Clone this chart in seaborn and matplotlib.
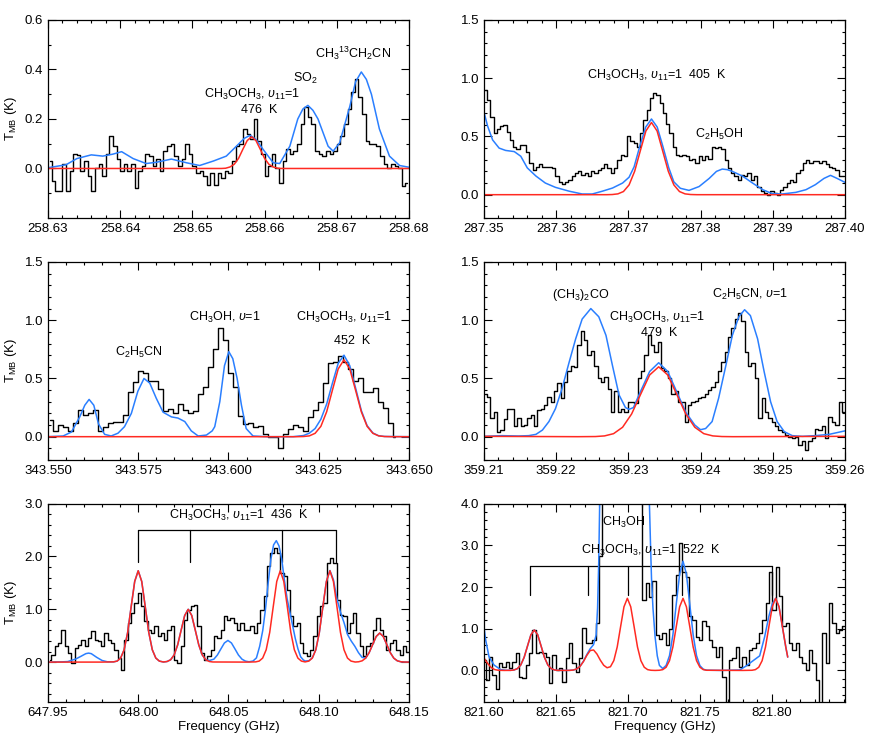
import numpy as np
import matplotlib
matplotlib.use('Agg')
import matplotlib.pyplot as plt
from matplotlib.ticker import FixedLocator, MultipleLocator, FormatStrFormatter
import seaborn as sns

# ---------------- panel 1 : 258.63 - 258.68 GHz ----------------
p1_obs = [0.03, -0.05, -0.09, -0.09, 0.02, -0.09, -0.01, 0.06, 0.055, -0.01,
          0.03, -0.03, -0.09, 0.0, 0.02, -0.03, 0.06, 0.13, 0.09, 0.04,
          -0.01, 0.02, -0.01, 0.02, -0.08, -0.01, 0.01, 0.06, 0.05, 0.01,
          0.04, -0.01, 0.07, 0.09, 0.10, 0.05, 0.01, 0.04, 0.10, 0.06,
          0.01, -0.02, -0.01, -0.03, -0.065, -0.02, -0.065, -0.02, -0.04, -0.01,
          -0.02, 0.03, 0.09, 0.10, 0.16, 0.14, 0.12, 0.20, 0.11, 0.06,
          -0.03, 0.01, 0.06, 0.0, -0.06, 0.03, 0.08, 0.06, 0.07, 0.10,
          0.18, 0.25, 0.21, 0.18, 0.07, 0.06, 0.05, 0.07, 0.06, 0.07,
          0.10, 0.13, 0.18, 0.24, 0.31, 0.36, 0.29, 0.22, 0.11, 0.10,
          0.10, 0.09, 0.05, 0.02, 0.0, 0.02, 0.01, 0.0, -0.07, -0.06]
p1_freq = np.linspace(258.63025, 258.67975, len(p1_obs))
p1_blue_x = [258.6300, 258.6325, 258.6340, 258.6360, 258.6376, 258.6390, 258.6402, 258.6418, 258.6436, 258.6450,
             258.6471, 258.6492, 258.6510, 258.6529, 258.6547, 258.6561, 258.6572, 258.6580, 258.6588, 258.6598,
             258.6612, 258.6621, 258.6635, 258.6646, 258.6653, 258.6660, 258.6667, 258.6674, 258.6688, 258.6695,
             258.6704, 258.6718, 258.6726, 258.6734, 258.6741, 258.6748, 258.6759, 258.6773, 258.6787, 258.6800]
p1_blue_y = [0.003, 0.015, 0.040, 0.055, 0.050, 0.058, 0.068, 0.040, 0.020, 0.025,
             0.038, 0.023, 0.012, 0.030, 0.050, 0.090, 0.122, 0.134, 0.118, 0.077,
             0.023, 0.020, 0.090, 0.200, 0.240, 0.255, 0.235, 0.200, 0.090, 0.070,
             0.104, 0.250, 0.350, 0.390, 0.360, 0.300, 0.160, 0.050, 0.012, 0.005]
p1_red_x = [258.63, 258.6540, 258.6546, 258.6552, 258.6558, 258.6564, 258.6570, 258.6576, 258.6582,
            258.6588, 258.6594, 258.6600, 258.6606, 258.6612, 258.6618, 258.6624, 258.68]
p1_red_y = [0, 0, 0.001, 0.006, 0.017, 0.041, 0.078, 0.113, 0.128, 0.113, 0.078, 0.041, 0.017, 0.006,
            0.001, 0, 0]

# ---------------- panel 2 : 287.35 - 287.40 GHz ----------------
p2_obs = [0.90, 0.81, 0.67, 0.53, 0.56, 0.59, 0.60, 0.54, 0.47, 0.41,
          0.39, 0.43, 0.43, 0.37, 0.27, 0.21, 0.24, 0.26, 0.24, 0.24,
          0.24, 0.23, 0.16, 0.11, 0.09, 0.11, 0.13, 0.16, 0.19, 0.20,
          0.17, 0.19, 0.16, 0.20, 0.19, 0.21, 0.23, 0.26, 0.23, 0.19,
          0.23, 0.30, 0.34, 0.33, 0.50, 0.46, 0.44, 0.41, 0.53, 0.64,
          0.73, 0.83, 0.87, 0.86, 0.79, 0.70, 0.61, 0.53, 0.41, 0.34,
          0.33, 0.34, 0.33, 0.30, 0.31, 0.27, 0.33, 0.30, 0.33, 0.31,
          0.41, 0.40, 0.41, 0.39, 0.30, 0.23, 0.19, 0.16, 0.13, 0.17,
          0.16, 0.19, 0.13, 0.16, 0.07, 0.03, 0.015, 0.0, 0.03, 0.015,
          0.0, 0.04, 0.07, 0.10, 0.13, 0.11, 0.19, 0.21, 0.27, 0.30,
          0.27, 0.29, 0.29, 0.27, 0.29, 0.26, 0.24, 0.23, 0.21, 0.16, 0.16]
p2_freq = np.linspace(287.3502, 287.3998, len(p2_obs))
p2_blue_x = [287.3500, 287.3505, 287.3512, 287.3521, 287.3530, 287.3542, 287.3551, 287.3560, 287.3572, 287.3585,
             287.3599, 287.3618, 287.3636, 287.3650, 287.3664, 287.3678, 287.3692, 287.3701, 287.3708, 287.3716,
             287.3724, 287.3732, 287.3740, 287.3748, 287.3756, 287.3763, 287.3772, 287.3784, 287.3798, 287.3812,
             287.3822, 287.3830, 287.3837, 287.3844, 287.3858, 287.3872, 287.3886, 287.3899, 287.3913, 287.3932,
             287.3946, 287.3959, 287.3971, 287.3980, 287.3989, 287.4000]
p2_blue_y = [0.71, 0.59, 0.47, 0.40, 0.38, 0.37, 0.33, 0.23, 0.16, 0.10,
             0.063, 0.03, 0.006, 0.006, 0.03, 0.057, 0.10, 0.15, 0.24, 0.42,
             0.58, 0.65, 0.58, 0.41, 0.23, 0.11, 0.055, 0.037, 0.07, 0.14,
             0.20, 0.22, 0.215, 0.20, 0.16, 0.10, 0.043, 0.01, 0.006, 0.02,
             0.043, 0.086, 0.14, 0.166, 0.14, 0.106]
p2_red_x = [287.35, 287.3670, 287.36777, 287.36855, 287.36932, 287.3701, 287.37087, 287.37165, 287.37243,
            287.3732, 287.37398, 287.37475, 287.37553, 287.3763, 287.37708, 287.37785, 287.37863, 287.3795, 287.40]
p2_red_y = [0, 0, 0.0014, 0.007, 0.027, 0.084, 0.201, 0.376, 0.547, 0.62, 0.547, 0.376, 0.201, 0.084,
            0.027, 0.007, 0.0014, 0, 0]

# ---------------- panel 3 : 343.55 - 343.65 GHz ----------------
p3_obs = [0.14, 0.05, 0.10, 0.08, 0.05, 0.12, 0.23, 0.19, 0.20, 0.23,
          0.05, 0.08, 0.12, 0.13, 0.13, 0.19, 0.38, 0.47, 0.56, 0.55,
          0.48, 0.48, 0.41, 0.22, 0.24, 0.20, 0.28, 0.23, 0.20, 0.22,
          0.37, 0.43, 0.60, 0.75, 0.93, 0.83, 0.55, 0.43, 0.18, 0.11,
          0.12, 0.08, 0.09, 0.02, 0.0, 0.0, -0.10, 0.02, 0.07, 0.10,
          0.08, 0.05, 0.17, 0.23, 0.30, 0.46, 0.63, 0.64, 0.69, 0.64,
          0.58, 0.48, 0.50, 0.38, 0.38, 0.42, 0.30, 0.25, 0.12, 0.0]
p3_freq = np.linspace(343.5507, 343.6462, len(p3_obs))
p3_blue_x = [343.5500, 343.5542, 343.5565, 343.5588, 343.5602, 343.5614, 343.5627, 343.5640, 343.5657, 343.5675,
             343.5694, 343.5712, 343.5731, 343.5749, 343.5766, 343.5782, 343.5800, 343.5819, 343.5842, 343.5860,
             343.5879, 343.5897, 343.5916, 343.5939, 343.5955, 343.5962, 343.5976, 343.5989, 343.6001, 343.6012,
             343.6024, 343.6036, 343.6049, 343.6068, 343.6105, 343.6179, 343.6208, 343.6224, 343.6240, 343.6256,
             343.6272, 343.6288, 343.6304, 343.6320, 343.6336, 343.6352, 343.6368, 343.6384, 343.6400, 343.6416,
             343.6432, 343.6500]
p3_blue_y = [0.0, 0.006, 0.04, 0.17, 0.27, 0.32, 0.27, 0.11, 0.02, 0.006,
             0.03, 0.086, 0.20, 0.39, 0.50, 0.46, 0.33, 0.21, 0.17, 0.16,
             0.13, 0.05, 0.006, 0.014, 0.05, 0.086, 0.30, 0.61, 0.73, 0.67,
             0.50, 0.27, 0.07, 0.006, 0.0, 0.0, 0.01, 0.03, 0.07, 0.15,
             0.28, 0.46, 0.63, 0.70, 0.61, 0.42, 0.225, 0.095, 0.032, 0.008,
             0.002, 0.0]
p3_red_x = [343.55, 343.619, 343.6208, 343.6224, 343.6240, 343.6256, 343.6272, 343.6288, 343.6304, 343.6320,
            343.6336, 343.6352, 343.6368, 343.6384, 343.6400, 343.6416, 343.6432, 343.645, 343.65]
p3_red_y = [0, 0, 0.0015, 0.007, 0.029, 0.089, 0.214, 0.40, 0.582, 0.66, 0.582, 0.40, 0.214, 0.089,
            0.029, 0.007, 0.0015, 0, 0]

# ---------------- panel 4 : 359.21 - 359.26 GHz ----------------
p4_obs = [0.37, 0.34, 0.16, 0.21, 0.04, 0.06, 0.15, 0.24, 0.24, 0.09,
          0.16, 0.09, 0.10, 0.16, 0.19, 0.09, 0.23, 0.24, 0.27, 0.34,
          0.30, 0.39, 0.46, 0.33, 0.47, 0.56, 0.61, 0.60, 0.79, 0.91,
          0.83, 0.70, 0.74, 0.61, 0.50, 0.47, 0.51, 0.41, 0.21, 0.39,
          0.21, 0.24, 0.21, 0.30, 0.30, 0.29, 0.50, 0.56, 0.70, 0.87,
          0.79, 0.73, 0.81, 0.59, 0.56, 0.50, 0.37, 0.39, 0.30, 0.30,
          0.13, 0.27, 0.30, 0.31, 0.33, 0.34, 0.37, 0.40, 0.43, 0.47,
          0.56, 0.64, 0.73, 0.86, 0.93, 1.01, 1.06, 0.99, 0.73, 0.61,
          0.63, 0.50, 0.16, 0.33, 0.21, 0.16, 0.13, 0.09, 0.06, 0.04,
          0.014, 0.0, -0.014, 0.0, -0.07, -0.04, -0.11, -0.04, -0.014, 0.07,
          0.06, 0.09, -0.014, 0.17, 0.13, 0.10, 0.30, 0.21]
p4_freq = np.linspace(359.2102, 359.2598, len(p4_obs))
p4_blue_x = [359.2100, 359.2125, 359.2148, 359.2162, 359.2172, 359.2181, 359.2190, 359.2199, 359.2208, 359.2218,
             359.2227, 359.2236, 359.2248, 359.2259, 359.2269, 359.2278, 359.2287, 359.2296, 359.2301, 359.2307,
             359.2317, 359.23295, 359.2342, 359.23545, 359.2367, 359.23795, 359.2392, 359.2400, 359.2407, 359.2416,
             359.2425, 359.2435, 359.2444, 359.2453, 359.2461, 359.2469, 359.2479, 359.2488, 359.2497, 359.2506,
             359.2516, 359.2527, 359.2541, 359.2559, 359.2578, 359.2600]
p4_blue_y = [0.003, 0.009, 0.006, 0.009, 0.02, 0.057, 0.13, 0.24, 0.41, 0.64,
             0.84, 1.01, 1.10, 1.03, 0.87, 0.61, 0.36, 0.25, 0.235, 0.25,
             0.39, 0.56, 0.635, 0.56, 0.385, 0.21, 0.10, 0.06, 0.07, 0.13,
             0.33, 0.61, 0.87, 1.03, 1.09, 1.04, 0.84, 0.56, 0.30, 0.13,
             0.043, 0.009, 0.003, 0.009, 0.02, 0.05]
p4_red_x = [359.21, 359.2230, 359.22545, 359.2267, 359.22795, 359.2292, 359.23045, 359.2317, 359.23295,
            359.2342, 359.23545, 359.2367, 359.23795, 359.2392, 359.24045, 359.2417, 359.24295, 359.2445, 359.26]
p4_red_y = [0.003, 0.0, 0.0013, 0.0067, 0.026, 0.081, 0.195, 0.364, 0.53, 0.60, 0.53, 0.364, 0.195, 0.081,
            0.026, 0.0067, 0.0013, 0.0, 0.003]

# ---------------- panel 5 : 647.95 - 648.15 GHz ----------------
p5_obs = [0.04, 0.14, 0.30, 0.36, 0.61, 0.30, 0.17, -0.02, 0.27, 0.33,
          0.42, 0.30, 0.46, 0.58, 0.42, 0.39, 0.30, 0.55, 0.42, 0.36,
          0.23, 0.08, -0.15, 0.42, 0.74, 0.93, 1.12, 1.31, 1.06, 0.77,
          0.61, 0.55, 0.68, 0.49, 0.55, 0.42, 0.61, 0.68, 0.04, -0.02,
          0.30, 0.80, 0.99, 1.06, 1.09, 0.68, 0.17, 0.04, 0.11, 0.23,
          0.49, 0.46, 0.61, 0.87, 0.80, 0.84, 0.74, 0.61, 0.74, 0.61,
          0.61, 0.68, 0.55, 0.74, 0.99, 1.25, 1.82, 2.07, 2.16, 2.07,
          1.69, 1.63, 1.37, 0.87, 0.68, 0.74, 0.36, 0.17, 0.11, 0.23,
          0.49, 0.87, 1.06, 1.12, 1.88, 1.97, 1.88, 1.18, 0.90, 0.87,
          0.55, 0.74, 0.93, 0.55, 0.30, 0.11, 0.30, 0.36, 0.61, 0.84,
          0.61, 0.49, 0.23, 0.36, 0.42, 0.23, 0.14, 0.30, 0.20]
p5_freq = np.linspace(647.951, 648.1494, len(p5_obs))
p5_red_x = [647.95, 647.98,
            647.98635, 647.9883, 647.99025, 647.9922, 647.99415, 647.9961, 647.99805, 648.0,
            648.00195, 648.0039, 648.00585, 648.0078, 648.00975, 648.0117, 648.01365,
            648.01405, 648.0160, 648.01795, 648.0199, 648.02185, 648.0238, 648.02575, 648.0277,
            648.02965, 648.0316, 648.03355, 648.0355, 648.03745, 648.0394, 648.04135,
            648.06,
            648.06505, 648.0670, 648.06895, 648.0709, 648.07285, 648.0748, 648.07675, 648.0787,
            648.08065, 648.0826, 648.08455, 648.0865, 648.08845, 648.0904, 648.09235,
            648.09255, 648.0945, 648.09645, 648.0984, 648.10035, 648.1023, 648.10425, 648.1062,
            648.10815, 648.1101, 648.11205, 648.1140, 648.11595, 648.1179, 648.11985,
            648.12015, 648.1221, 648.12405, 648.1260, 648.12795, 648.1299, 648.13185, 648.1338,
            648.13575, 648.1377, 648.13965, 648.1416, 648.14355, 648.1455, 648.14745,
            648.15]
p5_red_y = [0.0, 0.0,
            0.004, 0.019, 0.076, 0.234, 0.562, 1.049, 1.527, 1.73,
            1.527, 1.049, 0.562, 0.234, 0.076, 0.019, 0.004,
            0.002, 0.011, 0.044, 0.135, 0.325, 0.607, 0.883, 1.0,
            0.883, 0.607, 0.325, 0.135, 0.044, 0.011, 0.002,
            0.0,
            0.004, 0.019, 0.076, 0.234, 0.562, 1.049, 1.527, 1.73,
            1.527, 1.049, 0.562, 0.234, 0.076, 0.019, 0.004,
            0.004, 0.019, 0.076, 0.234, 0.562, 1.049, 1.527, 1.73,
            1.527, 1.049, 0.562, 0.234, 0.076, 0.019, 0.004,
            0.001, 0.006, 0.024, 0.074, 0.179, 0.334, 0.485, 0.55,
            0.485, 0.334, 0.179, 0.074, 0.024, 0.006, 0.001,
            0.0]
p5_blue_x = [647.95, 647.958, 647.961, 647.9655, 647.9683, 647.971, 647.9725, 647.974, 647.977, 647.98, 647.983,
             647.98635, 647.9883, 647.99025, 647.9922, 647.99415, 647.9961, 647.99805, 648.0,
             648.00195, 648.0039, 648.00585, 648.0078, 648.00975, 648.0117, 648.01365,
             648.01405, 648.0160, 648.01795, 648.0199, 648.02185, 648.0238, 648.02575, 648.0277,
             648.02965, 648.0316, 648.03355, 648.0355, 648.03745, 648.0394,
             648.0419, 648.04385, 648.0458, 648.04775, 648.0497, 648.05165, 648.0536, 648.05555,
             648.0575, 648.05945, 648.0614,
             648.0636, 648.0655, 648.0673, 648.069, 648.0705, 648.072, 648.0735, 648.075, 648.0765,
             648.078, 648.0795, 648.081, 648.0825, 648.084, 648.0855, 648.087, 648.0885, 648.09, 648.0915,
             648.09255, 648.0945, 648.09645, 648.0984, 648.10035, 648.1023, 648.10425, 648.1062,
             648.10815, 648.1101, 648.112, 648.114, 648.116, 648.118, 648.12, 648.122, 648.124,
             648.1260, 648.12795, 648.1299, 648.13185, 648.1338,
             648.13575, 648.1377, 648.13965, 648.1416, 648.14355, 648.1455, 648.14745, 648.15]
p5_blue_y = [0.0, 0.005, 0.01, 0.06, 0.11, 0.16, 0.17, 0.16, 0.09, 0.03, 0.005,
             0.004, 0.019, 0.076, 0.234, 0.562, 1.049, 1.527, 1.73,
             1.527, 1.049, 0.562, 0.234, 0.076, 0.019, 0.004,
             0.002, 0.011, 0.044, 0.135, 0.325, 0.607, 0.883, 1.0,
             0.883, 0.607, 0.325, 0.135, 0.044, 0.03,
             0.055, 0.133, 0.249, 0.362, 0.41, 0.362, 0.249, 0.133,
             0.055, 0.018, 0.006,
             0.02, 0.08, 0.3, 0.6, 1.0, 1.5, 1.95, 2.22, 2.30,
             2.2, 1.95, 1.55, 1.2, 0.95, 0.7, 0.45, 0.25, 0.1, 0.04,
             0.02, 0.025, 0.08, 0.234, 0.562, 1.049, 1.527, 1.735,
             1.56, 1.2, 0.95, 0.75, 0.52, 0.4, 0.3, 0.18, 0.09,
             0.074, 0.179, 0.334, 0.485, 0.55,
             0.485, 0.334, 0.179, 0.074, 0.024, 0.006, 0.001, 0.0]
p5_dme_lines = [648.0, 648.0289, 648.0795, 648.1094]

# ---------------- panel 6 : 821.60 - 821.85 GHz ----------------
p6_obs = [0.25, -0.23, 0.33, -0.11, -0.44, 0.17, 0.09, 0.21, 0.05, 0.21,
          0.41, -0.15, -0.19, 0.13, 0.41, 0.98, 0.41, 0.45, 0.41, 0.33,
          -0.31, 0.37, 0.01, 0.05, -0.27, 0.29, 0.65, 0.17, -0.03, 0.29,
          1.02, 0.65, 0.65, 0.73, 1.14, 2.75, 6.0, 6.0, 6.0, 6.0,
          6.0, 6.0, 6.0, 6.0, 6.0, 6.0, 6.0, 6.0, 1.70, 2.10,
          1.75, 2.15, 0.85, 0.75, 0.90, 0.60, 1.00, 1.80, 2.30, 3.05,
          2.35, 2.25, 1.30, 1.22, 0.81, 0.73, 1.18, 1.06, 0.73, 0.57,
          0.33, 0.57, -0.15, -0.80, 0.25, 0.29, 0.57, 0.09, 0.33, 0.13,
          0.49, 0.53, 0.65, 0.90, 1.22, 1.62, 2.35, 1.46, 2.47, 1.78,
          1.06, 1.14, 0.65, 0.49, 0.65, 0.33, 0.17, 0.01, 0.49, 0.17,
          -0.23, -0.80, 0.90, 0.17, 1.62, 1.14, 0.90, 0.98, 1.06]
p6_freq = np.linspace(821.6, 821.8503, len(p6_obs))
p6_red_x = [821.60, 821.6025, 821.605, 821.6075, 821.61, 821.614,
            821.61855, 821.6209, 821.62325, 821.6256, 821.62795, 821.6303, 821.63265, 821.635,
            821.63735, 821.6397, 821.64205, 821.6444, 821.64675, 821.6491, 821.65145,
            821.657,
            821.65975, 821.6621, 821.66445, 821.6668, 821.66915, 821.6715, 821.67385, 821.6762,
            821.67855, 821.6809, 821.68325, 821.6856, 821.68795, 821.6903, 821.69265, 821.695,
            821.69735, 821.6997, 821.70205, 821.7044, 821.70675, 821.7091, 821.71145, 821.7138, 821.71615,
            821.719,
            821.72195, 821.7243, 821.72665, 821.729, 821.73135, 821.7337, 821.73605, 821.7384,
            821.74075, 821.7431, 821.74545, 821.7478, 821.75015, 821.7525, 821.75485,
            821.78,
            821.78635, 821.7887, 821.79105, 821.7934, 821.79575, 821.7981, 821.80045, 821.8028,
            821.80515, 821.8075, 821.80985, 821.8112]
p6_red_y = [0.30, 0.17, 0.07, 0.02, 0.004, 0.0,
            0.002, 0.011, 0.043, 0.131, 0.315, 0.588, 0.856, 0.97,
            0.856, 0.588, 0.315, 0.131, 0.043, 0.011, 0.002,
            0.0,
            0.002, 0.0096, 0.035, 0.097, 0.212, 0.36, 0.477, 0.491,
            0.394, 0.246, 0.124, 0.064, 0.089, 0.237, 0.563, 1.049,
            1.527, 1.73, 1.527, 1.049, 0.562, 0.234, 0.076, 0.019, 0.004,
            0.0,
            0.004, 0.019, 0.076, 0.234, 0.562, 1.049, 1.527, 1.73,
            1.527, 1.049, 0.562, 0.234, 0.076, 0.019, 0.004,
            0.0,
            0.004, 0.019, 0.076, 0.234, 0.562, 1.049, 1.527, 1.73,
            1.527, 1.049, 0.562, 0.32]
p6_blue_x = [821.60, 821.6012, 821.6035, 821.607, 821.6116, 821.615,
             821.61855, 821.6209, 821.62325, 821.6256, 821.62795, 821.6303, 821.63265, 821.635,
             821.63735, 821.6397, 821.64205, 821.6444, 821.64675, 821.6491, 821.65145,
             821.657, 821.65975, 821.6621, 821.66445, 821.6668, 821.66915, 821.6715, 821.67385,
             821.6762, 821.678, 821.679, 821.6798, 821.6806, 821.6815, 821.713, 821.7148,
             821.7159, 821.7165, 821.7175, 821.719, 821.7205, 821.722, 821.7243,
             821.72665, 821.729, 821.73135, 821.7337, 821.73605, 821.7384,
             821.74075, 821.7431, 821.74545, 821.7478, 821.75015, 821.7525, 821.75485,
             821.765, 821.7778, 821.782, 821.7866, 821.7917, 821.7951, 821.7981, 821.80045,
             821.8028, 821.80515, 821.8075, 821.80985, 821.8112]
p6_blue_y = [1.05, 0.73, 0.33, 0.13, 0.02, 0.005,
             0.002, 0.011, 0.043, 0.131, 0.315, 0.588, 0.856, 0.97,
             0.856, 0.588, 0.315, 0.131, 0.043, 0.011, 0.002,
             0.0, 0.002, 0.0096, 0.035, 0.10, 0.22, 0.38, 0.52,
             0.62, 0.85, 1.5, 2.6, 4.3, 6.0, 6.0, 4.3,
             2.9, 2.2, 1.5, 0.8, 0.35, 0.12, 0.045,
             0.12, 0.354, 0.851, 1.589, 2.312, 2.62,
             2.312, 1.589, 0.851, 0.354, 0.115, 0.029, 0.006,
             0.0, 0.01, 0.1, 0.22, 0.35, 0.8, 1.3, 1.6,
             1.73, 1.527, 1.049, 0.562, 0.32]
p6_dme_lines = [821.6318, 821.6723, 821.7003, 821.738, 821.80]

BLUE = '#2a7fff'
RED = '#ff2a22'

sns.set_style('ticks')
plt.rcParams['font.family'] = ['Liberation Sans', 'DejaVu Sans']
plt.rcParams['mathtext.fontset'] = 'custom'
plt.rcParams['mathtext.rm'] = 'Liberation Sans'
plt.rcParams['mathtext.it'] = 'Liberation Sans:italic'
plt.rcParams['mathtext.bf'] = 'Liberation Sans:bold'
plt.rcParams['axes.linewidth'] = 0.9
for key in ['text.color', 'axes.labelcolor', 'axes.edgecolor', 'xtick.color', 'ytick.color']:
    plt.rcParams[key] = 'black'

fig = plt.figure(figsize=(8.72, 7.46), dpi=100)
W, H = 0.414, 0.2654
lefts = [0.055, 0.555]
bottoms = [0.7078, 0.3834, 0.0594]


def draw(ax, fx, fy, bx, by, rx, ry):
    sns.lineplot(x=fx, y=fy, ax=ax, color='black', lw=1.0, drawstyle='steps-mid',
                 estimator=None, sort=False)
    sns.lineplot(x=bx, y=by, ax=ax, color=BLUE, lw=1.1, estimator=None, sort=False)
    sns.lineplot(x=rx, y=ry, ax=ax, color=RED, lw=1.1, estimator=None, sort=False)


def style(ax, xlim, xticks, xminor, xfmt, ylim, yticks, yminor):
    ax.set_xlim(*xlim)
    ax.set_ylim(*ylim)
    ax.xaxis.set_major_locator(FixedLocator(xticks))
    ax.xaxis.set_minor_locator(MultipleLocator(xminor))
    ax.xaxis.set_major_formatter(FormatStrFormatter(xfmt))
    ax.yaxis.set_major_locator(FixedLocator(yticks))
    ax.yaxis.set_minor_locator(MultipleLocator(yminor))
    ax.yaxis.set_major_formatter(FormatStrFormatter('%.1f'))
    ax.tick_params(which='both', direction='in', top=True, right=True, labelsize=9.5, width=0.8,
                   colors='black')
    ax.tick_params(which='major', length=5.5)
    ax.tick_params(which='minor', length=2.5)
    ax.set_xlabel('')
    ax.set_ylabel('')


def bracket(ax, lines, top, bottom):
    ax.plot([lines[0], lines[-1]], [top, top], color='black', lw=0.9)
    for f in lines:
        ax.plot([f, f], [top, bottom], color='black', lw=0.9)


txt = dict(ha='center', va='center', fontsize=9, color='black')
dme = r'CH$_3$OCH$_3$, $\upsilon_{11}$=1'

# panel 1
ax1 = fig.add_axes([lefts[0], bottoms[0], W, H])
draw(ax1, p1_freq, p1_obs, p1_blue_x, p1_blue_y, p1_red_x, p1_red_y)
style(ax1, (258.63, 258.68), [258.63, 258.64, 258.65, 258.66, 258.67, 258.68], 0.002, '%.2f',
      (-0.2, 0.6), [0.0, 0.2, 0.4, 0.6], 0.1)
ax1.text(258.6582, 0.30, dme, **txt)
ax1.text(258.6593, 0.235, '476  K', **txt)
ax1.text(258.6657, 0.365, r'SO$_2$', **txt)
ax1.text(258.6723, 0.465, r'CH$_3$$^{13}$CH$_2$CN', **txt)
ax1.set_ylabel(r'T$_{\rm MB}$ (K)', fontsize=9.5)

# panel 2
ax2 = fig.add_axes([lefts[1], bottoms[0], W, H])
draw(ax2, p2_freq, p2_obs, p2_blue_x, p2_blue_y, p2_red_x, p2_red_y)
style(ax2, (287.35, 287.40), [287.35, 287.36, 287.37, 287.38, 287.39, 287.40], 0.002, '%.2f',
      (-0.2, 1.5), [0.0, 0.5, 1.0, 1.5], 0.1)
ax2.text(287.374, 1.02, dme + '  405  K', **txt)
ax2.text(287.3826, 0.514, r'C$_2$H$_5$OH', **txt)

# panel 3
ax3 = fig.add_axes([lefts[0], bottoms[1], W, H])
draw(ax3, p3_freq, p3_obs, p3_blue_x, p3_blue_y, p3_red_x, p3_red_y)
style(ax3, (343.55, 343.65), [343.55, 343.575, 343.60, 343.625, 343.65], 0.005, '%.3f',
      (-0.2, 1.5), [0.0, 0.5, 1.0, 1.5], 0.1)
ax3.text(343.5753, 0.72, r'C$_2$H$_5$CN', **txt)
ax3.text(343.5991, 1.02, r'CH$_3$OH, $\upsilon$=1', **txt)
ax3.text(343.6321, 1.02, dme, **txt)
ax3.text(343.6342, 0.82, '452  K', **txt)
ax3.set_ylabel(r'T$_{\rm MB}$ (K)', fontsize=9.5)

# panel 4
ax4 = fig.add_axes([lefts[1], bottoms[1], W, H])
draw(ax4, p4_freq, p4_obs, p4_blue_x, p4_blue_y, p4_red_x, p4_red_y)
style(ax4, (359.21, 359.26), [359.21, 359.22, 359.23, 359.24, 359.25, 359.26], 0.002, '%.2f',
      (-0.2, 1.5), [0.0, 0.5, 1.0, 1.5], 0.1)
ax4.text(359.2234, 1.22, r'(CH$_3$)$_2$CO', **txt)
ax4.text(359.234, 1.02, dme, **txt)
ax4.text(359.2343, 0.894, '479  K', **txt)
ax4.text(359.2468, 1.22, r'C$_2$H$_5$CN, $\upsilon$=1', **txt)

# panel 5
ax5 = fig.add_axes([lefts[0], bottoms[2], W, H])
bracket(ax5, p5_dme_lines, 2.5, 1.9)
draw(ax5, p5_freq, p5_obs, p5_blue_x, p5_blue_y, p5_red_x, p5_red_y)
style(ax5, (647.95, 648.15), [647.95, 648.00, 648.05, 648.10, 648.15], 0.01, '%.2f',
      (-0.75, 3.0), [0.0, 1.0, 2.0, 3.0], 0.2)
ax5.text(648.0558, 2.78, dme + '  436  K', **txt)
ax5.set_ylabel(r'T$_{\rm MB}$ (K)', fontsize=9.5)
ax5.set_xlabel('Frequency (GHz)', fontsize=9.5, labelpad=2)

# panel 6
ax6 = fig.add_axes([lefts[1], bottoms[2], W, H])
bracket(ax6, p6_dme_lines, 2.5, 1.82)
draw(ax6, p6_freq, p6_obs, p6_blue_x, p6_blue_y, p6_red_x, p6_red_y)
style(ax6, (821.60, 821.851), [821.60, 821.65, 821.70, 821.75, 821.80], 0.01, '%.2f',
      (-0.75, 4.0), [0.0, 1.0, 2.0, 3.0, 4.0], 0.2)
ax6.text(821.697, 3.56, r'CH$_3$OH', **txt)
ax6.text(821.716, 2.88, dme + '  522  K', **txt)
ax6.set_xlabel('Frequency (GHz)', fontsize=9.5, labelpad=2)

fig.savefig('out.png', dpi=100)
